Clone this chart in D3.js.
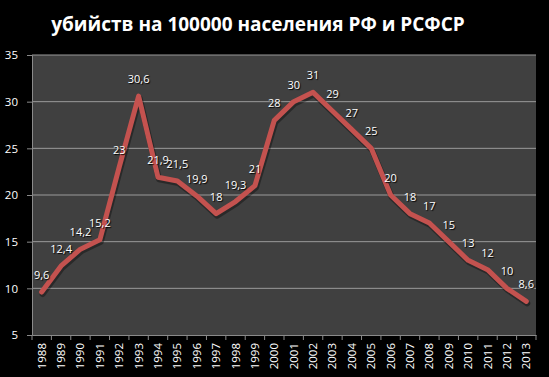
<!DOCTYPE html>
<html lang="ru">
<head>
<meta charset="UTF-8">
<title>убийств на 100000 населения РФ и РСФСР</title>
<script src="https://d3js.org/d3.v7.min.js"></script>
<style>
  body { margin: 0; background: #000; }
  text { font-family: 'Open Sans', sans-serif; fill: #fff; }
  .tick text { font-size: 11.5px; fill: #fff; }
  .val { font-size: 11px; text-shadow: 1px 1px 1px #000; }
</style>
</head>
<body>
<svg width="549" height="377"></svg>
<script>
  // Data
  const years = d3.range(1988, 2014).map(String);
  const murders = [9.6, 12.4, 14.2, 15.2, 23, 30.6, 21.9, 21.5, 19.9, 18, 19.3, 21,
                   28, 30, 31, 29, 27, 25, 20, 18, 17, 15, 13, 12, 10, 8.6];
  const yTicks = [5, 10, 15, 20, 25, 30, 35];

  const svg = d3.select("svg");
  const margin = { top: 55, right: 13, bottom: 42, left: 32 };
  const width = 549 - margin.left - margin.right;
  const height = 377 - margin.top - margin.bottom;

  svg.append("rect").attr("width", 549).attr("height", 377).attr("fill", "#000");

  const g = svg.append("g").attr("transform", `translate(${margin.left},${margin.top})`);

  const x = d3.scaleBand().domain(years).range([0, width]);
  const y = d3.scaleLinear().domain([5, 35]).range([height, 0]);

  // plot area
  g.append("rect").attr("width", width).attr("height", height).attr("fill", "#404040");

  // gridlines
  g.selectAll(".grid").data(yTicks.slice(1))
    .enter().append("line")
    .attr("x1", 0).attr("x2", width)
    .attr("y1", d => y(d)).attr("y2", d => y(d))
    .attr("stroke", "#9a9a9a").attr("stroke-width", 1);

  // y axis
  const yAxis = g.append("g")
    .call(d3.axisLeft(y).tickValues(yTicks).tickSize(5).tickPadding(9));
  yAxis.selectAll("line, path").attr("stroke", "#8a8a8a");

  // x axis
  const xAxis = g.append("g")
    .attr("transform", `translate(0,${height})`)
    .call(d3.axisBottom(x).tickSize(0).tickPadding(0));
  xAxis.select(".domain").attr("stroke", "#8a8a8a");
  xAxis.selectAll(".tick text")
    .attr("transform", "rotate(-90)")
    .attr("text-anchor", "end")
    .attr("x", -8).attr("y", 0).attr("dy", "0.35em");
  // tick marks between categories
  xAxis.selectAll(".sep").data(years.concat(["end"]))
    .enter().append("line")
    .attr("x1", (d, i) => i * x.step()).attr("x2", (d, i) => i * x.step())
    .attr("y1", 0).attr("y2", 5)
    .attr("stroke", "#8a8a8a");

  const cx = (d, i) => x(years[i]) + x.bandwidth() / 2;

  // line
  const line = d3.line().x(cx).y(d => y(d));
  g.append("path").datum(murders)
    .attr("fill", "none").attr("stroke", "#000").attr("stroke-opacity", 0.35)
    .attr("stroke-width", 6).attr("stroke-linejoin", "round").attr("stroke-linecap", "round")
    .attr("transform", "translate(1,2)")
    .attr("d", line);
  g.append("path").datum(murders)
    .attr("fill", "none").attr("stroke", "#c4524f")
    .attr("stroke-width", 5).attr("stroke-linejoin", "round").attr("stroke-linecap", "round")
    .attr("d", line);

  // labels
  g.selectAll(".val").data(murders)
    .enter().append("text")
    .attr("class", "val")
    .attr("x", cx)
    .attr("y", d => y(d) - 13)
    .attr("text-anchor", "middle")
    .text(d => String(d).replace(".", ","));

  // title
  svg.append("text")
    .attr("x", 258).attr("y", 31)
    .attr("text-anchor", "middle")
    .style("font-size", "19px").style("font-weight", "bold")
    .text("убийств на 100000 населения РФ и РСФСР");
</script>
</body>
</html>
